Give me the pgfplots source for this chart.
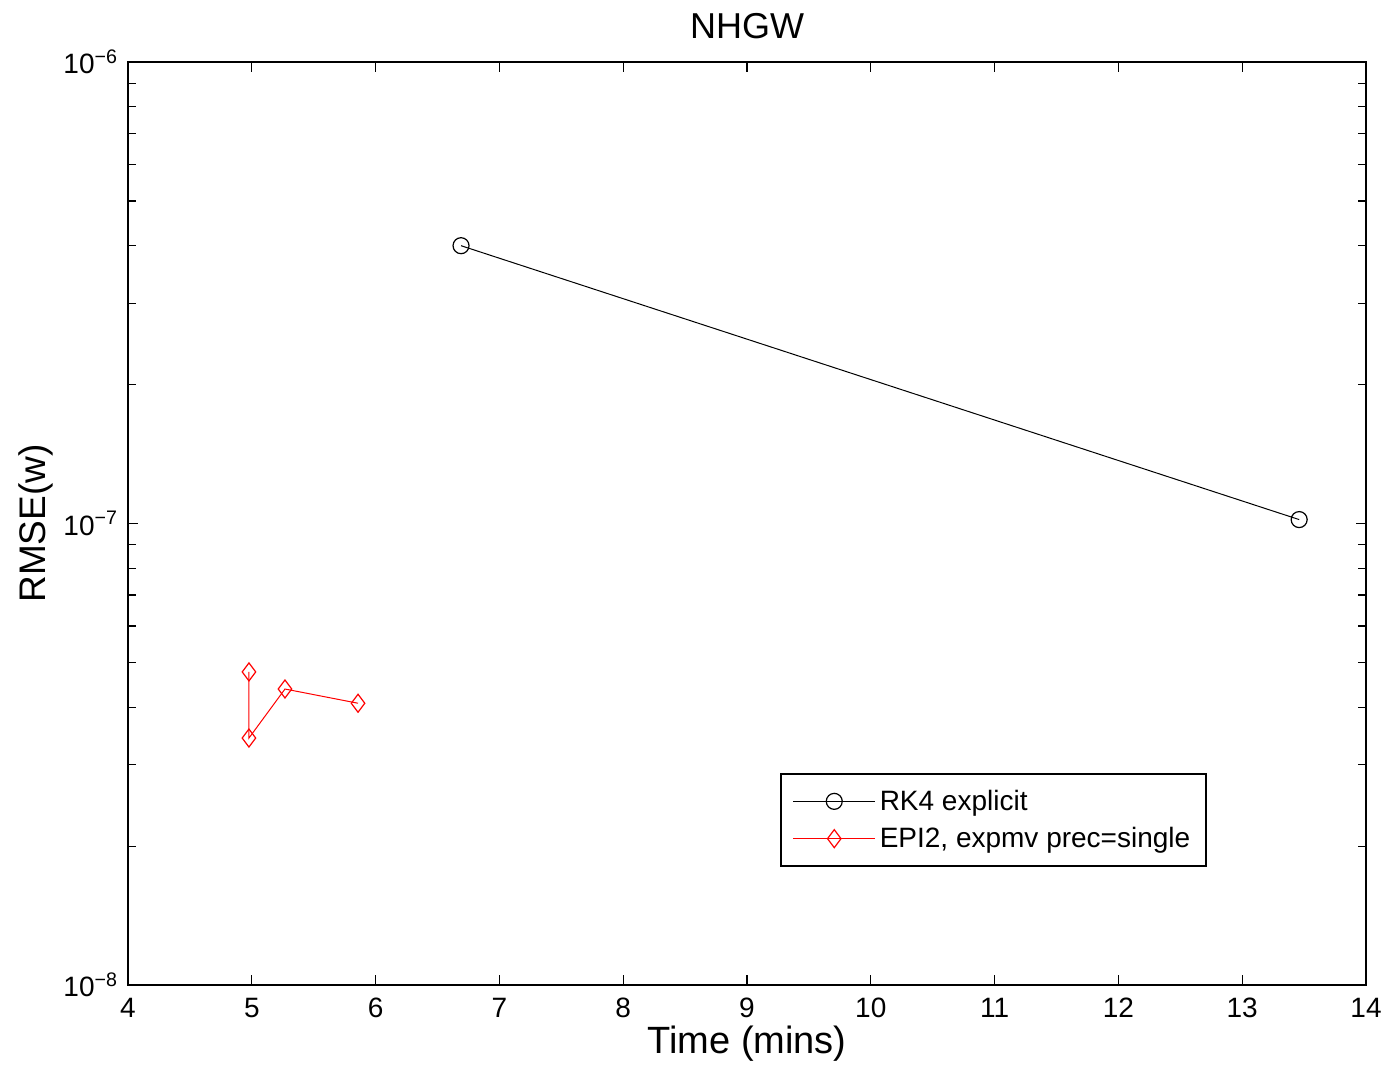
\documentclass[border=0pt]{standalone}
\usepackage{pgfplots}
\pgfplotsset{compat=1.18}
\usepackage{fontspec}
\setmainfont{Liberation Sans}
\begin{document}
\begin{tikzpicture}
\begin{axis}[
  scale only axis,
  width=619pt, height=461.5pt,
  xmin=4, xmax=14, ymin=1e-8, ymax=1e-6,
  ymode=log,
  xtick={4,5,...,14},
  ytick={1e-8,1e-7,1e-6},
  yticklabels={10\textsuperscript{\textminus 8},10\textsuperscript{\textminus 7},10\textsuperscript{\textminus 6}},
  /pgf/number format/assume math mode=true,
  tick align=inside,
  tick pos=both,
  major tick length=5pt, minor tick length=4pt,
  tick label style={font=\fontsize{14}{16}\selectfont},
  xticklabel style={yshift=-3pt},
  yticklabel style={xshift=-1.5pt},
  every tick/.style={black, line width=0.6pt},
  axis line style={line width=0.8pt},
  title={NHGW},
  title style={font=\fontsize{18}{21}\selectfont, at={(axis description cs:0.5,1.0130)}, anchor=base},
  xlabel={Time (mins)},
  ylabel={RMSE(w)},
  xlabel style={font=\fontsize{19}{22}\selectfont, at={(axis description cs:0.5,-0.0745)}, anchor=base},
  ylabel style={font=\fontsize{18.5}{22}\selectfont, at={(axis description cs:-0.0665,0.5)}, anchor=base},
  legend style={at={(0.8716,0.1278)}, anchor=south east, draw=black, line width=0.8pt,
    font=\fontsize{14}{16}\selectfont, row sep=3pt, inner xsep=6pt, inner ysep=6pt},
  legend cell align=left,
  legend image code/.code={\draw[mark repeat=2,mark phase=2] plot coordinates {(0pt,0pt) (20.5pt,0pt) (41pt,0pt)};},
]
\addplot[black, line width=0.5pt, mark=o, mark size=4pt, mark options={line width=0.6pt}]
  coordinates {(6.69,4.0e-7) (13.46,1.02e-7)};
\addlegendentry{RK4 explicit}
\addplot[red, line width=0.5pt, mark=diamond, mark size=4.5pt, mark options={line width=0.6pt}]
  coordinates {(4.977,4.77e-8) (4.977,3.43e-8) (5.268,4.38e-8) (5.858,4.08e-8)};
\addlegendentry{EPI2, expmv prec=single}
\coordinate (bl) at (axis description cs:-0.1034,-0.0878);
\coordinate (tr) at (axis description cs:1.01696,1.06717);
\end{axis}
\pgfresetboundingbox
\path[use as bounding box] (bl) rectangle (tr);
\end{tikzpicture}
\end{document}
